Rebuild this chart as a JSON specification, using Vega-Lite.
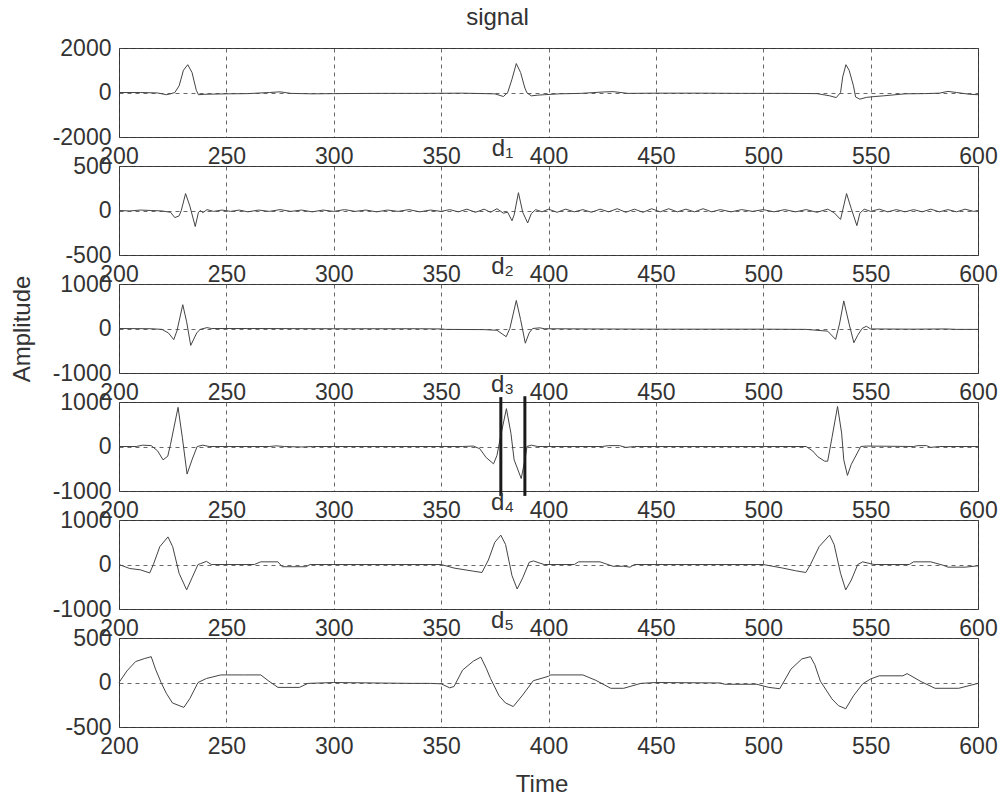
{
  "$schema": "https://vega.github.io/schema/vega-lite/v6.json",
  "background": "white",
  "padding": {"left": 9, "top": 5, "right": 5, "bottom": 2},
  "spacing": 29,
  "bounds": "flush",
  "config": {
    "font": "Liberation Sans",
    "view": {"stroke": "#333", "strokeWidth": 1},
    "axis": {"labelFont": "Liberation Sans", "labelFontSize": 23, "labelColor": "#333", "ticks": false, "domain": false, "grid": true, "gridColor": "#444", "gridDash": [4, 4], "gridOpacity": 0.8, "gridWidth": 1, "labelPadding": 8, "titleFont": "Liberation Sans", "titleFontSize": 24, "titleFontWeight": "normal", "titleColor": "#333", "labelOverlap": false, "labelFlush": false, "labelExpr": "toString(datum.value)"},
    "title": {"font": "Liberation Sans", "fontSize": 24, "fontWeight": "normal", "color": "#333", "frame": "group", "baseline": "alphabetic", "anchor": "middle"},
    "line": {"color": "#444", "strokeWidth": 1}
  },
  "datasets": {
    "s": [
      {"t":200,"v":0},{"t":210,"v":0},{"t":218,"v":-20},{"t":222,"v":-100},{"t":224,"v":-60},{"t":226,"v":0},{"t":228,"v":300},{"t":230,"v":1000},{"t":232,"v":1250},{"t":234,"v":900},{"t":236,"v":100},{"t":237,"v":-100},{"t":240,"v":-80},{"t":250,"v":-60},{"t":260,"v":-50},{"t":270,"v":0},{"t":275,"v":30},{"t":280,"v":-40},{"t":290,"v":-60},{"t":300,"v":-50},{"t":320,"v":-40},{"t":340,"v":-40},{"t":360,"v":-30},{"t":375,"v":-60},{"t":379,"v":-180},{"t":381,"v":0},{"t":383,"v":600},{"t":385,"v":1300},{"t":387,"v":900},{"t":389,"v":200},{"t":390,"v":-20},{"t":392,"v":-150},{"t":395,"v":-120},{"t":398,"v":-100},{"t":405,"v":-60},{"t":415,"v":-40},{"t":425,"v":20},{"t":430,"v":40},{"t":437,"v":-40},{"t":450,"v":-30},{"t":470,"v":-30},{"t":490,"v":-40},{"t":510,"v":-40},{"t":525,"v":-50},{"t":531,"v":-150},{"t":534,"v":-230},{"t":536,"v":0},{"t":537,"v":700},{"t":538.5,"v":1250},{"t":540,"v":1000},{"t":542,"v":300},{"t":543,"v":-200},{"t":545,"v":-300},{"t":548,"v":-220},{"t":552,"v":-180},{"t":556,"v":-150},{"t":566,"v":-60},{"t":575,"v":-50},{"t":582,"v":-30},{"t":586,"v":50},{"t":590,"v":0},{"t":596,"v":-80},{"t":600,"v":-100}
    ],
    "d1": [
      {"t":200,"v":0},{"t":205,"v":-5},{"t":210,"v":5},{"t":215,"v":0},{"t":220,"v":-5},{"t":224,"v":-20},{"t":226,"v":-80},{"t":228,"v":-60},{"t":229,"v":0},{"t":231,"v":190},{"t":233,"v":50},{"t":235.5,"v":-180},{"t":237,"v":-20},{"t":238,"v":0},{"t":239,"v":-25},{"t":241,"v":10},{"t":244,"v":-10},{"t":248,"v":5},{"t":252,"v":-10},{"t":256,"v":5},{"t":260,"v":-15},{"t":265,"v":5},{"t":270,"v":-10},{"t":275,"v":10},{"t":280,"v":-10},{"t":285,"v":5},{"t":290,"v":-15},{"t":295,"v":5},{"t":300,"v":-10},{"t":305,"v":10},{"t":310,"v":-10},{"t":315,"v":5},{"t":320,"v":-15},{"t":325,"v":5},{"t":330,"v":-10},{"t":335,"v":10},{"t":340,"v":-15},{"t":345,"v":5},{"t":350,"v":-10},{"t":354,"v":10},{"t":358,"v":-15},{"t":362,"v":15},{"t":366,"v":-20},{"t":370,"v":15},{"t":373,"v":-20},{"t":376,"v":20},{"t":379,"v":-30},{"t":381,"v":-20},{"t":383,"v":-115},{"t":384,"v":-50},{"t":386,"v":200},{"t":388,"v":-20},{"t":390.3,"v":-140},{"t":392,"v":-35},{"t":394,"v":10},{"t":397,"v":-15},{"t":400,"v":15},{"t":404,"v":-20},{"t":408,"v":15},{"t":412,"v":-15},{"t":416,"v":10},{"t":420,"v":-20},{"t":424,"v":15},{"t":428,"v":-15},{"t":432,"v":20},{"t":436,"v":-20},{"t":440,"v":15},{"t":444,"v":-20},{"t":448,"v":20},{"t":452,"v":-15},{"t":456,"v":20},{"t":460,"v":-15},{"t":464,"v":15},{"t":468,"v":-15},{"t":472,"v":20},{"t":476,"v":-15},{"t":480,"v":10},{"t":485,"v":-15},{"t":490,"v":10},{"t":495,"v":-10},{"t":500,"v":10},{"t":505,"v":-15},{"t":510,"v":10},{"t":515,"v":-15},{"t":520,"v":10},{"t":525,"v":-20},{"t":530,"v":15},{"t":533,"v":-25},{"t":536,"v":-100},{"t":538.8,"v":190},{"t":541,"v":20},{"t":543.6,"v":-170},{"t":545,"v":-30},{"t":547,"v":15},{"t":550,"v":-10},{"t":554,"v":15},{"t":558,"v":-15},{"t":562,"v":10},{"t":566,"v":-15},{"t":570,"v":10},{"t":574,"v":-15},{"t":578,"v":15},{"t":582,"v":-15},{"t":586,"v":10},{"t":590,"v":-15},{"t":594,"v":15},{"t":598,"v":-10},{"t":600,"v":0}
    ],
    "d2": [
      {"t":200,"v":0},{"t":215,"v":-5},{"t":220,"v":-20},{"t":223,"v":-100},{"t":225.5,"v":-250},{"t":227,"v":-50},{"t":229.7,"v":535},{"t":231.5,"v":150},{"t":233.4,"v":-380},{"t":236.2,"v":-100},{"t":237.8,"v":-20},{"t":241,"v":20},{"t":243,"v":0},{"t":260,"v":0},{"t":300,"v":-5},{"t":340,"v":-5},{"t":350,"v":-10},{"t":352,"v":-20},{"t":370,"v":-25},{"t":376,"v":-40},{"t":380.3,"v":-185},{"t":382,"v":0},{"t":385,"v":630},{"t":387,"v":200},{"t":389.2,"v":-330},{"t":391,"v":-100},{"t":392.6,"v":0},{"t":396,"v":15},{"t":398,"v":-5},{"t":420,"v":-10},{"t":450,"v":-15},{"t":500,"v":-15},{"t":520,"v":-20},{"t":530,"v":-60},{"t":533.7,"v":-245},{"t":535.5,"v":100},{"t":537.5,"v":620},{"t":540,"v":100},{"t":542.2,"v":-320},{"t":544,"v":-150},{"t":546,"v":0},{"t":548,"v":50},{"t":550,"v":-10},{"t":570,"v":-15},{"t":585,"v":-10},{"t":590,"v":-20},{"t":600,"v":-20}
    ],
    "d3": [
      {"t":200,"v":0},{"t":208,"v":0},{"t":211,"v":30},{"t":215,"v":20},{"t":218,"v":-100},{"t":220.5,"v":-300},{"t":222.7,"v":-220},{"t":224,"v":50},{"t":227.5,"v":880},{"t":229.5,"v":200},{"t":231.7,"v":-620},{"t":234,"v":-300},{"t":236.4,"v":0},{"t":239,"v":30},{"t":242,"v":0},{"t":270,"v":0},{"t":273,"v":15},{"t":277,"v":0},{"t":285,"v":-10},{"t":290,"v":0},{"t":360,"v":0},{"t":365,"v":10},{"t":368,"v":-50},{"t":371,"v":-250},{"t":374.4,"v":-390},{"t":376,"v":-200},{"t":378,"v":300},{"t":380.4,"v":850},{"t":382.5,"v":300},{"t":384,"v":-300},{"t":387.3,"v":-720},{"t":389,"v":-300},{"t":390,"v":0},{"t":392,"v":30},{"t":395,"v":0},{"t":425,"v":0},{"t":428,"v":20},{"t":433,"v":20},{"t":436,"v":-20},{"t":440,"v":0},{"t":500,"v":0},{"t":520,"v":0},{"t":523,"v":-100},{"t":525.4,"v":-230},{"t":528.6,"v":-330},{"t":530,"v":-330},{"t":532,"v":200},{"t":534.6,"v":900},{"t":536.5,"v":300},{"t":537.5,"v":-300},{"t":539.2,"v":-650},{"t":541,"v":-400},{"t":545.4,"v":0},{"t":548,"v":10},{"t":570,"v":0},{"t":572,"v":20},{"t":576,"v":20},{"t":578,"v":-20},{"t":582,"v":0},{"t":600,"v":0}
    ],
    "d4": [
      {"t":200,"v":0},{"t":205,"v":-90},{"t":210,"v":-120},{"t":214.3,"v":-190},{"t":216,"v":0},{"t":219,"v":400},{"t":222.8,"v":620},{"t":225,"v":400},{"t":228,"v":-200},{"t":231.5,"v":-570},{"t":234,"v":-300},{"t":236.8,"v":0},{"t":238,"v":20},{"t":240.7,"v":70},{"t":243,"v":0},{"t":263,"v":0},{"t":266,"v":60},{"t":274,"v":60},{"t":276,"v":-50},{"t":287,"v":-50},{"t":289,"v":0},{"t":350,"v":0},{"t":356,"v":-80},{"t":365,"v":-150},{"t":369,"v":-180},{"t":372,"v":100},{"t":375,"v":500},{"t":377.8,"v":660},{"t":380,"v":450},{"t":383,"v":-250},{"t":385.4,"v":-550},{"t":388,"v":-300},{"t":391,"v":50},{"t":393,"v":80},{"t":396,"v":30},{"t":398,"v":0},{"t":412,"v":0},{"t":414,"v":60},{"t":424,"v":60},{"t":430,"v":-40},{"t":435,"v":-40},{"t":438,"v":-60},{"t":440,"v":0},{"t":500,"v":0},{"t":509,"v":-80},{"t":515,"v":-140},{"t":519.8,"v":-180},{"t":522,"v":0},{"t":526,"v":400},{"t":530.9,"v":660},{"t":533,"v":450},{"t":536,"v":-200},{"t":538.4,"v":-570},{"t":541,"v":-350},{"t":544,"v":0},{"t":546.3,"v":60},{"t":551.6,"v":0},{"t":568,"v":0},{"t":570,"v":60},{"t":578,"v":60},{"t":584,"v":-20},{"t":586,"v":-60},{"t":594,"v":-60},{"t":600,"v":-30}
    ],
    "d5": [
      {"t":200,"v":0},{"t":203.7,"v":130},{"t":207.7,"v":235},{"t":212,"v":270},{"t":215,"v":290},{"t":217,"v":150},{"t":219.6,"v":0},{"t":222,"v":-120},{"t":224.9,"v":-230},{"t":230.2,"v":-280},{"t":233,"v":-180},{"t":236.8,"v":0},{"t":240.7,"v":45},{"t":247.4,"v":85},{"t":258,"v":85},{"t":266,"v":85},{"t":269.8,"v":15},{"t":274,"v":-55},{"t":284,"v":-55},{"t":288,"v":-10},{"t":300,"v":0},{"t":336,"v":-10},{"t":345,"v":-10},{"t":350,"v":-15},{"t":354,"v":-60},{"t":356,"v":-45},{"t":360,"v":140},{"t":365,"v":240},{"t":368.5,"v":285},{"t":371,"v":160},{"t":373,"v":45},{"t":377,"v":-150},{"t":380,"v":-230},{"t":383.6,"v":-270},{"t":388,"v":-140},{"t":392.9,"v":20},{"t":400,"v":70},{"t":401,"v":85},{"t":416,"v":85},{"t":422,"v":25},{"t":429,"v":-65},{"t":435,"v":-65},{"t":443,"v":-10},{"t":450,"v":0},{"t":480,"v":-5},{"t":482,"v":-20},{"t":497,"v":-20},{"t":502.6,"v":-55},{"t":507.7,"v":-70},{"t":512.9,"v":150},{"t":518,"v":265},{"t":522,"v":290},{"t":524,"v":200},{"t":526.6,"v":15},{"t":532,"v":-185},{"t":535,"v":-260},{"t":538.4,"v":-295},{"t":542,"v":-150},{"t":546.3,"v":-15},{"t":550,"v":40},{"t":554,"v":75},{"t":565,"v":75},{"t":567,"v":100},{"t":573.5,"v":10},{"t":580,"v":-65},{"t":591,"v":-65},{"t":600,"v":-10}
    ],
    "marks": [
      {"t":377.8,"top":1110,"bottom":-1110},
      {"t":389,"top":1130,"bottom":-1110}
    ]
  },
  "vconcat": [
    {
      "width": 859, "height": 89,
      "title": {"text": "signal", "offset": 7, "dx": -51},
      "data": {"name": "s"},
      "mark": "line",
      "encoding": {
        "x": {"field": "t", "type": "quantitative", "scale": {"domain": [200, 600]}, "axis": {"title": null, "values": [200,250,300,350,400,450,500,550,600]}},
        "y": {"field": "v", "type": "quantitative", "scale": {"domain": [-2000, 2000]}, "axis": {"title": null, "values": [-2000, 0, 2000]}}
      }
    },
    {
      "width": 859, "height": 89,
      "title": {"text": "d₁", "offset": -6, "dx": -46},
      "data": {"name": "d1"},
      "mark": "line",
      "encoding": {
        "x": {"field": "t", "type": "quantitative", "scale": {"domain": [200, 600]}, "axis": {"title": null, "values": [200,250,300,350,400,450,500,550,600]}},
        "y": {"field": "v", "type": "quantitative", "scale": {"domain": [-500, 500]}, "axis": {"title": null, "values": [-500, 0, 500]}}
      }
    },
    {
      "width": 859, "height": 89,
      "title": {"text": "d₂", "offset": -6, "dx": -46},
      "data": {"name": "d2"},
      "mark": "line",
      "encoding": {
        "x": {"field": "t", "type": "quantitative", "scale": {"domain": [200, 600]}, "axis": {"title": null, "values": [200,250,300,350,400,450,500,550,600]}},
        "y": {"field": "v", "type": "quantitative", "scale": {"domain": [-1000, 1000]}, "axis": {"title": "Amplitude", "titleX": -97, "titleY": 44.5, "titleAngle": 270, "titleAlign": "center", "titleBaseline": "middle", "values": [-1000, 0, 1000]}}
      }
    },
    {
      "width": 859, "height": 89,
      "title": {"text": "d₃", "offset": -6, "dx": -46},
      "layer": [
        {
          "data": {"name": "d3"},
          "mark": "line",
          "encoding": {
            "x": {"field": "t", "type": "quantitative", "scale": {"domain": [200, 600]}, "axis": {"title": null, "values": [200,250,300,350,400,450,500,550,600]}},
            "y": {"field": "v", "type": "quantitative", "scale": {"domain": [-1000, 1000]}, "axis": {"title": null, "values": [-1000, 0, 1000]}}
          }
        },
        {
          "data": {"name": "marks"},
          "mark": {"type": "rule", "color": "#1a1a1a", "strokeWidth": 3},
          "encoding": {
            "x": {"field": "t", "type": "quantitative"},
            "y": {"field": "top", "type": "quantitative"},
            "y2": {"field": "bottom"}
          }
        }
      ]
    },
    {
      "width": 859, "height": 89,
      "title": {"text": "d₄", "offset": -6, "dx": -46},
      "data": {"name": "d4"},
      "mark": "line",
      "encoding": {
        "x": {"field": "t", "type": "quantitative", "scale": {"domain": [200, 600]}, "axis": {"title": null, "values": [200,250,300,350,400,450,500,550,600]}},
        "y": {"field": "v", "type": "quantitative", "scale": {"domain": [-1000, 1000]}, "axis": {"title": null, "values": [-1000, 0, 1000]}}
      }
    },
    {
      "width": 859, "height": 89,
      "title": {"text": "d₅", "offset": -6, "dx": -46},
      "data": {"name": "d5"},
      "mark": "line",
      "encoding": {
        "x": {"field": "t", "type": "quantitative", "scale": {"domain": [200, 600]}, "axis": {"title": "Time", "titleX": 422.5, "titleY": 64, "titleAlign": "center", "titleBaseline": "alphabetic", "values": [200,250,300,350,400,450,500,550,600]}},
        "y": {"field": "v", "type": "quantitative", "scale": {"domain": [-500, 500]}, "axis": {"title": null, "values": [-500, 0, 500]}}
      }
    }
  ]
}
